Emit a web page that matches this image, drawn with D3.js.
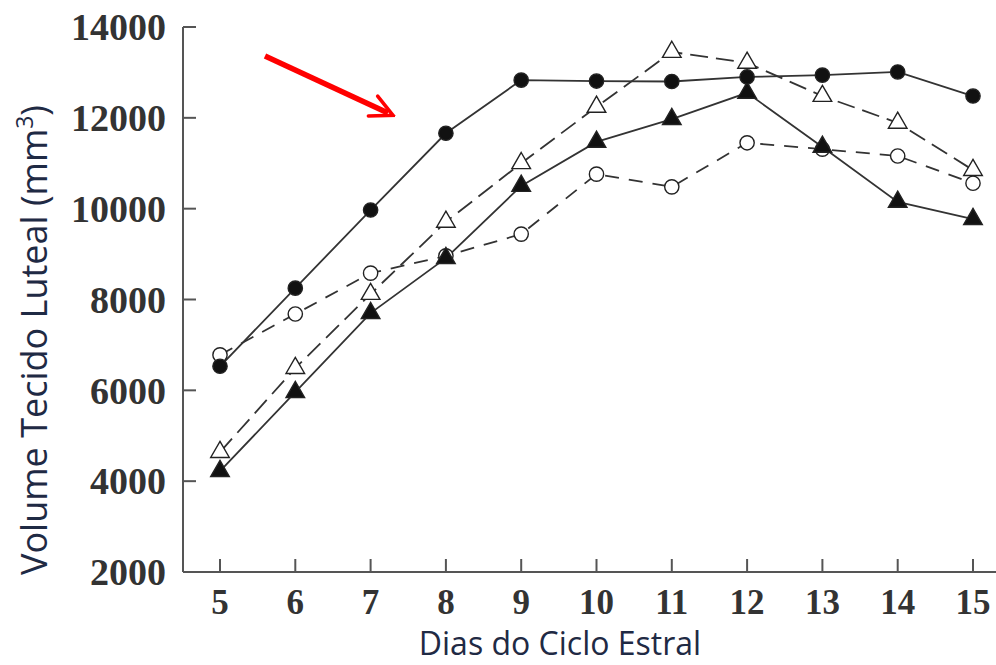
<!DOCTYPE html>
<html><head><meta charset="utf-8">
<script src="https://cdn.jsdelivr.net/npm/d3@7"></script>
<style>body{margin:0;background:#fff}</style>
</head><body>
<svg id="c" width="996" height="665"></svg>
<script>
const days = [5,6,7,8,9,10,11,12,13,14,15];
const filledCircle = [6530,8250,9970,11660,12830,12810,12800,12900,12940,13010,12480];
const filledTriangle = [4220,5960,7700,8910,10500,11470,11970,12550,11360,10150,9770];
const openTriangle = [4640,6490,8120,9710,11000,12240,13450,13210,12480,11890,10850];
const openCircle = [6780,7680,8580,8960,9440,10760,10480,11450,11310,11160,10560];
const yTicks = [2000,4000,6000,8000,10000,12000,14000];
const xTitle = "Dias do Ciclo Estral";
const yTitle = "Volume Tecido Luteal (mm";

const svg = d3.select("#c");
const x = d3.scaleLinear().domain([5,15]).range([220,973]);
const y = d3.scaleLinear().domain([2000,14000]).range([572,27]);
const axisCol = "#555";

svg.append("line").attr("x1",183).attr("x2",183).attr("y1",27).attr("y2",572).attr("stroke",axisCol).attr("stroke-width",2);
svg.append("line").attr("x1",183).attr("x2",996).attr("y1",572).attr("y2",572).attr("stroke",axisCol).attr("stroke-width",2);

yTicks.forEach(v=>{
  svg.append("line").attr("x1",183).attr("x2",196).attr("y1",y(v)).attr("y2",y(v)).attr("stroke",axisCol).attr("stroke-width",2);
  svg.append("text").attr("x",166).attr("y",y(v)).attr("dy","0.35em").attr("text-anchor","end")
    .attr("font-family","Liberation Serif").attr("font-weight","bold").attr("font-size",38).attr("fill","#333").text(v);
});
days.forEach(d=>{
  svg.append("line").attr("x1",x(d)).attr("x2",x(d)).attr("y1",572).attr("y2",559).attr("stroke",axisCol).attr("stroke-width",2);
  svg.append("text").attr("x",x(d)).attr("y",614).attr("text-anchor","middle")
    .attr("font-family","Liberation Serif").attr("font-weight","bold").attr("font-size",35).attr("fill","#333").text(d);
});

svg.append("text").attr("x",560).attr("y",655).attr("text-anchor","middle")
  .attr("font-family","Open Sans").attr("font-size",32).attr("fill","#1f2a44").text(xTitle);
const yt = svg.append("text").attr("transform","translate(47,340) rotate(-90)").attr("text-anchor","middle")
  .attr("font-family","Open Sans").attr("font-size",36).attr("fill","#1f2a44");
yt.append("tspan").text(yTitle);
yt.append("tspan").attr("dy",-14).attr("font-size",23).text("3");
yt.append("tspan").attr("dy",14).text(")");

const line = d3.line().x((d,i)=>x(days[i])).y(d=>y(d));
const lineCol = "#333";
const series = [
  {v:openCircle, dash:"14,10", sym:d3.symbolCircle, fill:"#fff", size:160},
  {v:openTriangle, dash:"18,8", sym:d3.symbolTriangle, fill:"#fff", size:150},
  {v:filledTriangle, dash:null, sym:d3.symbolTriangle, fill:"#111", size:150},
  {v:filledCircle, dash:null, sym:d3.symbolCircle, fill:"#111", size:160},
];
series.forEach(s=>{
  svg.append("path").attr("d",line(s.v)).attr("fill","none").attr("stroke",lineCol).attr("stroke-width",1.8)
    .attr("stroke-dasharray",s.dash);
});
series.forEach(s=>{
  svg.selectAll(null).data(s.v).enter().append("path")
    .attr("transform",(d,i)=>`translate(${x(days[i])},${y(d)})`)
    .attr("d",d3.symbol().type(s.sym).size(s.size)())
    .attr("fill",s.fill).attr("stroke","#222").attr("stroke-width",1.4);
});

const defs = svg.append("defs");
defs.append("marker").attr("id","ah").attr("viewBox","0 0 10 10").attr("refX",7).attr("refY",5)
  .attr("markerWidth",5).attr("markerHeight",5).attr("orient","auto")
  .append("path").attr("d","M1,1 L9,5 L1,9").attr("fill","none").attr("stroke","#f00").attr("stroke-width",1.3)
  .attr("stroke-linecap","round").attr("stroke-linejoin","miter");
svg.append("line").attr("x1",265).attr("y1",56).attr("x2",388).attr("y2",113)
  .attr("stroke","#f00").attr("stroke-width",5.5).attr("marker-end","url(#ah)");
</script>
</body></html>
